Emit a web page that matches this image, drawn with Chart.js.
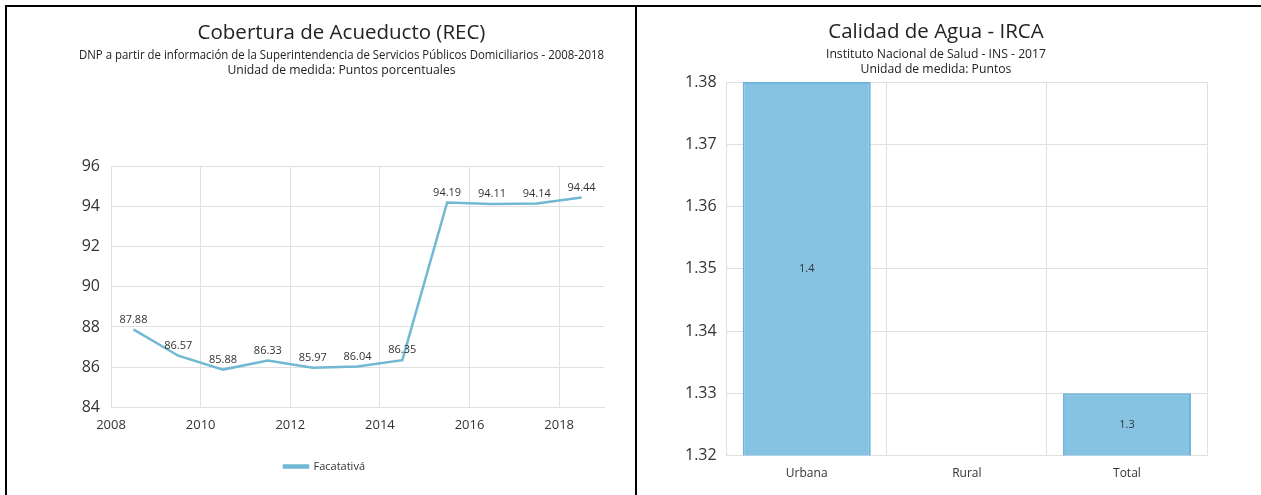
<!DOCTYPE html>
<html>
<head>
<meta charset="utf-8">
<script src="https://cdn.jsdelivr.net/npm/chart.js@4"></script>
<style>
  html, body { margin: 0; padding: 0; background: #fff; }
  body { width: 1261px; height: 495px; position: relative; overflow: hidden; }
  .frame-top { position: absolute; left: 5px; top: 5px; width: 1256px; height: 2px; background: #000; }
  .frame-left { position: absolute; left: 5px; top: 5px; width: 2px; height: 490px; background: #000; }
  .frame-mid { position: absolute; left: 635px; top: 5px; width: 2px; height: 490px; background: #000; }
  #boxLeft { position: absolute; left: 8px; top: 8px; width: 627px; height: 487px; }
  #boxRight { position: absolute; left: 638px; top: 8px; width: 623px; height: 487px; }
</style>
</head>
<body>
<div class="frame-top"></div>
<div class="frame-left"></div>
<div class="frame-mid"></div>
<div id="boxLeft"><canvas id="coberturaChart"></canvas></div>
<div id="boxRight"><canvas id="ircaChart"></canvas></div>
<script>
// Cobertura de acueducto (REC), Facatativá
const years = [2008, 2009, 2010, 2011, 2012, 2013, 2014, 2015, 2016, 2017, 2018];
const coberturaValues = [87.88, 86.57, 85.88, 86.33, 85.97, 86.04, 86.35, 94.19, 94.11, 94.14, 94.44];
const yearTicks = [2008, 2010, 2012, 2014, 2016, 2018];

// Calidad de agua - IRCA 2017
const ircaCategories = ['Urbana', 'Rural', 'Total'];
const ircaValues = [1.38, null, 1.33];

const fontFamily = "'Open Sans', 'Noto Sans', sans-serif";
Chart.defaults.font.family = fontFamily;
Chart.defaults.color = '#333';
Chart.defaults.animation = false;

// small plugin to write the values on the marks
const valueLabels = {
    id: 'valueLabels',
    afterDatasetsDraw(chart, args, opts) {
        const ctx = chart.ctx;
        const area = chart.chartArea;
        chart.data.datasets.forEach((ds, i) => {
            const meta = chart.getDatasetMeta(i);
            meta.data.forEach((el, j) => {
                const raw = ds.data[j];
                const v = (raw !== null && typeof raw === 'object') ? raw.y : raw;
                if (v === null || v === undefined) return;
                ctx.save();
                ctx.font = '11px ' + fontFamily;
                ctx.fillStyle = '#333';
                ctx.textAlign = 'center';
                ctx.textBaseline = 'middle';
                if (meta.type === 'bar') {
                    // bars start below the axis minimum, so use the visible part only
                    const top = Math.max(el.y, area.top);
                    const bottom = Math.min(el.base, area.bottom);
                    ctx.fillText(v.toFixed(opts.decimals), el.x, (top + bottom) / 2);
                } else {
                    ctx.fillText(v.toFixed(opts.decimals), el.x, el.y - 10);
                }
                ctx.restore();
            });
        });
    }
};

// nudge the legend a bit to the left, like the original
const legendShift = {
    id: 'legendShift',
    afterLayout(chart, args, opts) {
        if (chart.legend && opts.dx) {
            chart.legend.left += opts.dx;
            chart.legend.right += opts.dx;
        }
    }
};

// points are drawn at mid-year
const coberturaPoints = years.map((y, i) => ({ x: y + 0.5, y: coberturaValues[i] }));

new Chart(document.getElementById('coberturaChart'), {
    type: 'line',
    data: {
        datasets: [{
            label: 'Facatativá',
            data: coberturaPoints,
            borderColor: '#70b8d3',
            backgroundColor: '#70b8d3',
            borderWidth: 2.5,
            pointRadius: 0,
            tension: 0
        }]
    },
    options: {
        responsive: true,
        maintainAspectRatio: false,
        layout: { padding: { left: 71, right: 31, top: 13, bottom: 13 } },
        plugins: {
            title: {
                display: true,
                text: 'Cobertura de Acueducto (REC)',
                font: { size: 20.5, weight: 'normal' },
                color: '#222',
                padding: { top: 0, bottom: 2 }
            },
            subtitle: {
                display: true,
                text: ['DNP a partir de información de la Superintendencia de Servicios Públicos Domiciliarios - 2008-2018',
                       'Unidad de medida: Puntos porcentuales'],
                font: { size: 12.2, lineHeight: 1.25 },
                color: '#222',
                padding: { bottom: 88 }
            },
            legend: {
                position: 'bottom',
                labels: { boxWidth: 24, boxHeight: 2, font: { size: 11 }, color: '#333', padding: 18 }
            },
            legendShift: { dx: -17 },
            tooltip: { enabled: false },
            valueLabels: { decimals: 2 }
        },
        scales: {
            x: {
                type: 'linear',
                min: 2008,
                max: 2019,
                afterBuildTicks: axis => { axis.ticks = yearTicks.map(v => ({ value: v })); },
                ticks: { callback: v => String(v), font: { size: 13 }, color: '#333', padding: 10, maxRotation: 0 },
                grid: { color: '#e0e0e0', drawTicks: false },
                border: { color: '#e0e0e0' }
            },
            y: {
                min: 84,
                max: 96,
                afterFit: s => { s.width = 32; },
                ticks: { stepSize: 2, font: { size: 16 }, color: '#333', padding: 11 },
                grid: { color: '#e0e0e0', drawTicks: false },
                border: { display: false }
            }
        }
    },
    plugins: [valueLabels, legendShift]
});

new Chart(document.getElementById('ircaChart'), {
    type: 'bar',
    data: {
        labels: ircaCategories,
        datasets: [{
            label: 'IRCA',
            data: ircaValues,
            backgroundColor: '#86c3e3',
            borderColor: '#6fb6da',
            borderWidth: 2,
            categoryPercentage: 0.8,
            barPercentage: 1
        }]
    },
    options: {
        responsive: true,
        maintainAspectRatio: false,
        layout: { padding: { left: 27, right: 54, top: 12, bottom: 3 } },
        plugins: {
            title: {
                display: true,
                text: 'Calidad de Agua - IRCA',
                font: { size: 20.5, weight: 'normal' },
                color: '#222',
                padding: { top: 0, bottom: 2 }
            },
            subtitle: {
                display: true,
                text: ['Instituto Nacional de Salud - INS - 2017', 'Unidad de medida: Puntos'],
                font: { size: 12.2, lineHeight: 1.25 },
                color: '#222',
                padding: { bottom: 5 }
            },
            legend: { display: false },
            tooltip: { enabled: false },
            valueLabels: { decimals: 1 }
        },
        scales: {
            x: {
                ticks: { font: { size: 12 }, color: '#333', padding: 11 },
                grid: { color: '#e0e0e0', drawTicks: false },
                border: { color: '#e0e0e0' }
            },
            y: {
                min: 1.32,
                max: 1.38,
                afterFit: s => { s.width = s.width + 10; },
                ticks: { stepSize: 0.01, callback: v => v.toFixed(2), font: { size: 16 }, color: '#333', padding: 10 },
                grid: { color: '#e0e0e0', drawTicks: false },
                border: { color: '#e0e0e0' }
            }
        }
    },
    plugins: [valueLabels]
});
</script>
</body>
</html>
